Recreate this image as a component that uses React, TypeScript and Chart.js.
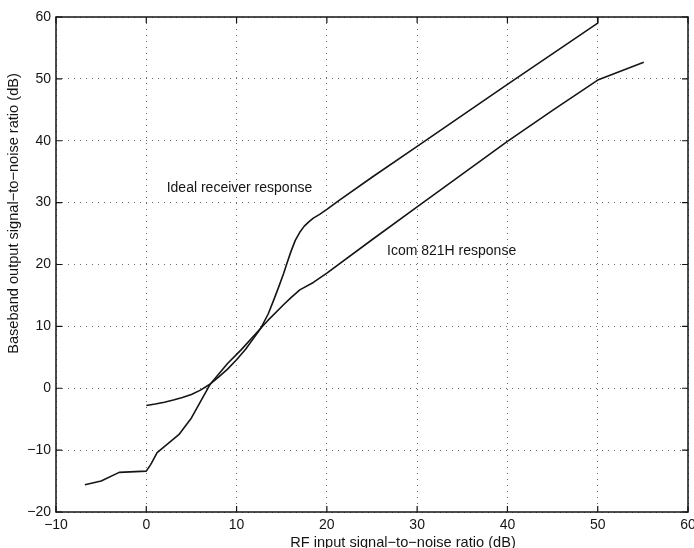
import React, { useEffect, useRef } from "react";
import { Chart, registerables } from "chart.js";

Chart.register(...registerables);

// Ideal receiver response
const idealX = [0, 1, 2, 3, 4, 5, 6, 7, 8, 9, 10, 11, 12, 12.7, 13.5, 14.1, 14.7, 15.2, 15.6, 16, 16.5, 17, 17.5, 18, 18.5, 19.2, 20, 21.4, 25, 30, 40, 50, 50];
const idealY = [-2.8, -2.55, -2.25, -1.9, -1.5, -1.0, -0.3, 0.6, 1.8, 3.1, 4.6, 6.3, 8.3, 9.75, 12.0, 14.2, 16.5, 18.5, 20.3, 22.0, 23.9, 25.2, 26.2, 26.9, 27.5, 28.1, 28.9, 30.4, 34.1, 39.1, 49.1, 59.0, 60.0];

// Icom 821H response
const icomX = [-6.8, -5, -3, 0, 0.5, 1.2, 3.6, 5, 7.1, 9, 10.5, 12.7, 13.5, 15.2, 16, 17, 18.5, 20, 25, 30, 35, 40, 45, 50, 55.1];
const icomY = [-15.6, -15.0, -13.6, -13.4, -12.3, -10.4, -7.5, -4.8, 0.7, 4.0, 6.2, 9.75, 11.0, 13.5, 14.6, 15.9, 17.1, 18.6, 24.0, 29.3, 34.6, 39.9, 44.9, 49.8, 52.7];

const xTicks = [-10, 0, 10, 20, 30, 40, 50, 60];
const yTicks = [-20, -10, 0, 10, 20, 30, 40, 50, 60];

const labelTexts = ["Ideal receiver response", "Icom 821H response"];
const labelX = [2.26, 26.66];
const labelY = [32.4, 22.2];

const xTitle = "RF input signal\u2212to\u2212noise ratio (dB)";
const yTitle = "Baseband output signal\u2212to\u2212noise ratio (dB)";

const FONT = '"Liberation Sans", Arial, Helvetica, sans-serif';
const INK = "#151515";

const fmt = (v: number) => (v < 0 ? "\u2212" + Math.abs(v) : String(v));

const decorPlugin = {
  id: "decor",
  afterDatasetsDraw(chart: any) {
    const { ctx, chartArea, scales } = chart;
    const { left, right, top, bottom } = chartArea;
    const xs = scales.x;
    const ys = scales.y;
    ctx.save();
    // box
    ctx.strokeStyle = INK;
    ctx.lineWidth = 1.5;
    ctx.strokeRect(left, top, right - left, bottom - top);
    // inward ticks
    ctx.lineWidth = 1.2;
    ctx.beginPath();
    xTicks.forEach((v) => {
      const px = xs.getPixelForValue(v);
      ctx.moveTo(px, bottom);
      ctx.lineTo(px, bottom - 6);
      ctx.moveTo(px, top);
      ctx.lineTo(px, top + 6);
    });
    yTicks.forEach((v) => {
      const py = ys.getPixelForValue(v);
      ctx.moveTo(left, py);
      ctx.lineTo(left + 6, py);
      ctx.moveTo(right, py);
      ctx.lineTo(right - 6, py);
    });
    ctx.stroke();
    // annotations
    ctx.fillStyle = INK;
    ctx.font = "14px " + FONT;
    ctx.textAlign = "left";
    ctx.textBaseline = "middle";
    labelTexts.forEach((t, i) => {
      ctx.fillText(t, xs.getPixelForValue(labelX[i]), ys.getPixelForValue(labelY[i]));
    });
    // axis titles
    ctx.font = "14.6px " + FONT;
    ctx.textAlign = "center";
    ctx.fillText(xTitle, (left + right) / 2 + 31, 543);
    ctx.translate(14, (top + bottom) / 2 - 51);
    ctx.rotate(-Math.PI / 2);
    ctx.fillText(yTitle, 0, 0);
    ctx.restore();
  },
};

export default function App() {
  const ref = useRef<HTMLCanvasElement | null>(null);

  useEffect(() => {
    if (!ref.current) return;
    const chart = new Chart(ref.current, {
      type: "line",
      data: {
        datasets: [
          {
            label: "Ideal receiver response",
            data: idealX.map((x, i) => ({ x, y: idealY[i] })),
            borderColor: INK,
            borderWidth: 1.6,
            pointRadius: 0,
            fill: false,
            tension: 0,
            borderJoinStyle: "round",
          },
          {
            label: "Icom 821H response",
            data: icomX.map((x, i) => ({ x, y: icomY[i] })),
            borderColor: INK,
            borderWidth: 1.6,
            pointRadius: 0,
            fill: false,
            tension: 0,
            borderJoinStyle: "round",
          },
        ],
      },
      options: {
        animation: false,
        responsive: false,
        devicePixelRatio: 1,
        layout: { padding: { left: 0, right: 6, top: 17, bottom: 0 } },
        plugins: {
          legend: { display: false },
          tooltip: { enabled: false },
        },
        scales: {
          x: {
            type: "linear",
            min: -10,
            max: 60,
            afterFit: (s: any) => {
              s.height = 36;
              s.paddingLeft = 0;
              s.paddingRight = 0;
            },
            afterBuildTicks: (s: any) => {
              s.ticks = xTicks.map((v) => ({ value: v }));
            },
            ticks: {
              padding: 5,
              color: INK,
              font: { family: FONT, size: 14 },
              maxRotation: 0,
              callback: (v: any) => fmt(Number(v)),
            },
            grid: { color: "#6a6a6a", lineWidth: 1, drawTicks: false },
            border: { display: false, dash: [1, 5] },
          },
          y: {
            type: "linear",
            min: -20,
            max: 60,
            afterFit: (s: any) => {
              s.width = 56;
            },
            afterBuildTicks: (s: any) => {
              s.ticks = yTicks.map((v) => ({ value: v }));
            },
            ticks: {
              padding: 5,
              color: INK,
              font: { family: FONT, size: 14 },
              callback: (v: any) => fmt(Number(v)),
            },
            grid: { color: "#6a6a6a", lineWidth: 1, drawTicks: false },
            border: { display: false, dash: [1, 5] },
          },
        },
      },
      plugins: [decorPlugin],
    });
    return () => chart.destroy();
  }, []);

  return (
    <div style={{ position: "fixed", left: 0, top: 0, width: 694, height: 548, background: "#fff" }}>
      <canvas ref={ref} width={694} height={548} style={{ display: "block" }} />
    </div>
  );
}
